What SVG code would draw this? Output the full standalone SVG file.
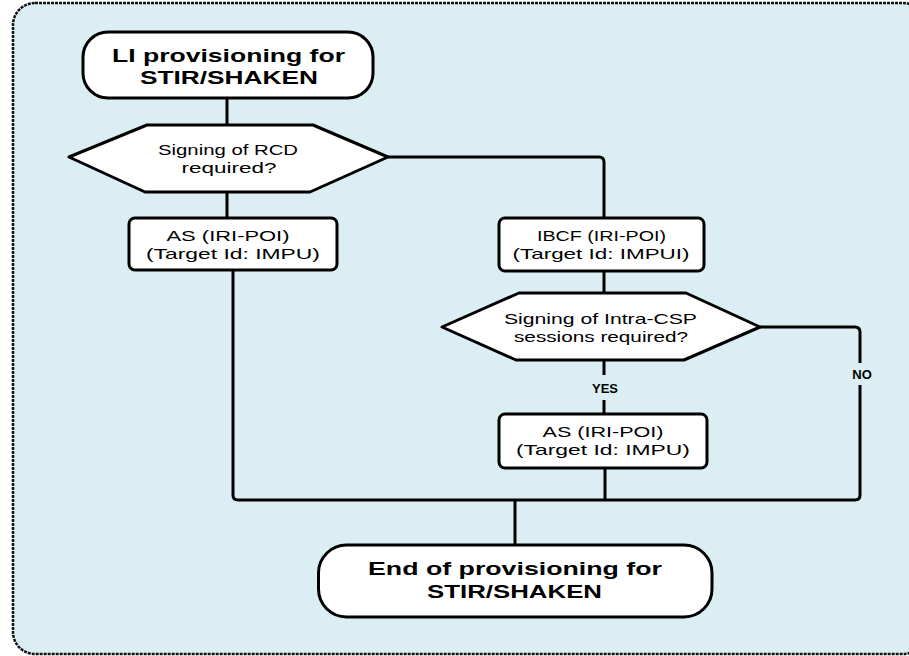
<svg xmlns="http://www.w3.org/2000/svg" width="909" height="656" viewBox="0 0 909 656">
<style>
.frame{fill:#DAEEF3;stroke:#111;stroke-width:2.5;stroke-dasharray:3 1}
.node{fill:#fff;stroke:#000;stroke-width:3;stroke-linejoin:round}
.conn{fill:none;stroke:#000;stroke-width:3}
.t{font-family:"Liberation Sans",Arial,sans-serif;fill:#000;text-anchor:middle}
.b{font-weight:bold;font-size:19px}
.r{font-size:15px}
.lbl{font-family:"Liberation Sans",Arial,sans-serif;font-weight:bold;font-size:13px;fill:#000;text-anchor:middle}
</style>
<rect class="frame" x="13" y="3" width="912" height="651" rx="22"/>
<g id="connectors">
<path class="conn" d="M227 98V125"/>
<path class="conn" d="M227 192V218"/>
<path class="conn" d="M388 157H599Q604 157 604 162V218"/>
<path class="conn" d="M604 271V293"/>
<path class="conn" d="M604 360V375"/>
<path class="conn" d="M604 400V414"/>
<path class="conn" d="M233 270V495Q233 500 238 500H855Q860 500 860 495V385"/>
<path class="conn" d="M760 327H855Q860 327 860 332V363"/>
<path class="conn" d="M605 468V500"/>
<path class="conn" d="M515 500V545"/>
<text class="lbl" x="605" y="393">YES</text>
<text class="lbl" x="862" y="379">NO</text>
</g>
<g id="start">
<rect class="node" x="83" y="32" width="290" height="66" rx="25"/>
<text class="t b" x="228.5" y="61.5" textLength="233" lengthAdjust="spacingAndGlyphs">LI provisioning for</text>
<text class="t b" x="229" y="83.5" textLength="178" lengthAdjust="spacingAndGlyphs">STIR/SHAKEN</text>
</g>
<g id="decision1">
<polygon class="node" points="69,157 147,125 313,125 388,157 310,192 145,192"/>
<text class="t r" x="228" y="155" textLength="140" lengthAdjust="spacingAndGlyphs">Signing of RCD</text>
<text class="t r" x="229" y="172.5" textLength="95" lengthAdjust="spacingAndGlyphs">required?</text>
</g>
<g id="as1">
<rect class="node" x="129" y="218" width="208" height="52" rx="6"/>
<text class="t r" x="228" y="241" textLength="123" lengthAdjust="spacingAndGlyphs">AS (IRI-POI)</text>
<text class="t r" x="233" y="258.5" textLength="174" lengthAdjust="spacingAndGlyphs">(Target Id:  IMPU)</text>
</g>
<g id="ibcf">
<rect class="node" x="499" y="218" width="205" height="53" rx="6"/>
<text class="t r" x="601.5" y="240.5" textLength="129" lengthAdjust="spacingAndGlyphs">IBCF (IRI-POI)</text>
<text class="t r" x="601" y="258.5" textLength="177" lengthAdjust="spacingAndGlyphs">(Target Id: IMPUI)</text>
</g>
<g id="decision2">
<polygon class="node" points="442,327 519,293 686,293 760,327 684,360 516,360"/>
<text class="t r" x="600.5" y="323.5" textLength="193" lengthAdjust="spacingAndGlyphs">Signing of Intra-CSP</text>
<text class="t r" x="601" y="341.5" textLength="174" lengthAdjust="spacingAndGlyphs">sessions required?</text>
</g>
<g id="as2">
<rect class="node" x="499" y="414" width="208" height="54" rx="6"/>
<text class="t r" x="603" y="437" textLength="121" lengthAdjust="spacingAndGlyphs">AS (IRI-POI)</text>
<text class="t r" x="603" y="455" textLength="174" lengthAdjust="spacingAndGlyphs">(Target Id:  IMPU)</text>
</g>
<g id="end">
<rect class="node" x="318.5" y="545" width="393.5" height="72" rx="28"/>
<text class="t b" x="515" y="575" textLength="294" lengthAdjust="spacingAndGlyphs">End of provisioning for</text>
<text class="t b" x="514.5" y="598" textLength="175" lengthAdjust="spacingAndGlyphs">STIR/SHAKEN</text>
</g>
</svg>
